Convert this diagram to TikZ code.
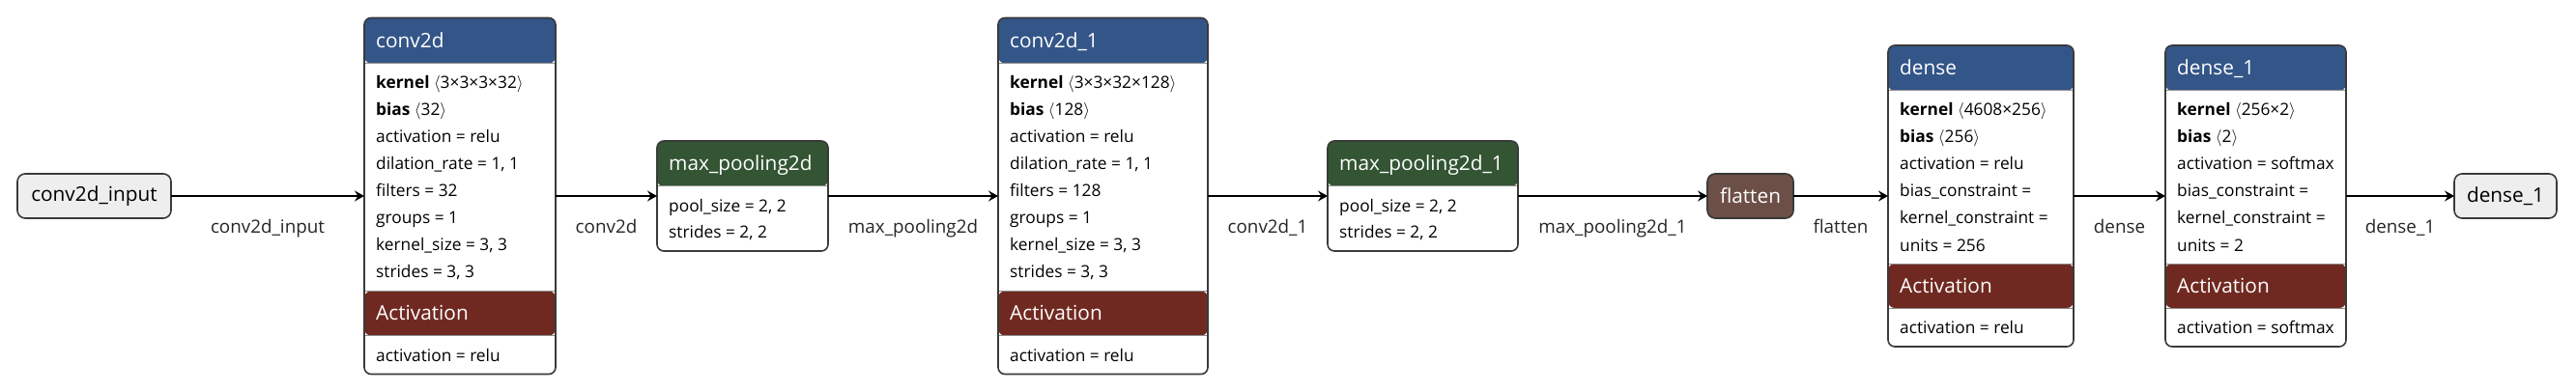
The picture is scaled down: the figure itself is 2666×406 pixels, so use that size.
\documentclass[tikz,border=0pt]{standalone}
\usepackage{fontspec}
\setmainfont{Open Sans}
\usepackage{tikz}
\usetikzlibrary{arrows.meta, positioning}
\definecolor{layerblue}{HTML}{335588}
\definecolor{poolgreen}{HTML}{335533}
\definecolor{actred}{HTML}{702921}
\definecolor{shapebrown}{HTML}{6C4F47}
\definecolor{iogray}{HTML}{EEEEEE}
\definecolor{framegray}{HTML}{3A3A3A}
\definecolor{sepgray}{HTML}{8C8C8C}
\newcommand{\tshape}[1]{ $\langle$#1$\rangle$}
\tikzset{
  layer/.style={rectangle, rounded corners=7pt, draw=framegray, line width=1.6pt,
                fill=white, inner sep=0pt, outer sep=0pt},
  convlayer/.style={layer, path picture={
      \fill[layerblue] (path picture bounding box.north west)
        rectangle ([yshift=-47pt]path picture bounding box.north east);
      \fill[actred] ([yshift=86pt]path picture bounding box.south west)
        rectangle ([yshift=40pt]path picture bounding box.south east);
      \draw[sepgray, line width=1pt]
        ([yshift=-47pt]path picture bounding box.north west) -- ([yshift=-47pt]path picture bounding box.north east)
        ([yshift=86pt]path picture bounding box.south west) -- ([yshift=86pt]path picture bounding box.south east)
        ([yshift=40pt]path picture bounding box.south west) -- ([yshift=40pt]path picture bounding box.south east);}},
  poollayer/.style={layer, path picture={
      \fill[poolgreen] (path picture bounding box.north west)
        rectangle ([yshift=-47pt]path picture bounding box.north east);
      \draw[sepgray, line width=1pt]
        ([yshift=-47pt]path picture bounding box.north west) -- ([yshift=-47pt]path picture bounding box.north east);}},
  iobox/.style={rectangle, rounded corners=8pt, draw=framegray, line width=1.6pt,
                fill=iogray, minimum height=46pt, inner sep=0pt, outer sep=0pt,
                font=\fontsize{20.8}{24}\selectfont},
  flatbox/.style={iobox, fill=shapebrown, text=white},
  hdtext/.style={anchor=base west, inner sep=0pt, text=white,
                 font=\fontsize{20.8}{24}\selectfont},
  attr/.style={anchor=base west, inner sep=0pt, font=\fontsize{17.3}{20}\selectfont},
  elabel/.style={midway, anchor=base, yshift=-38.8pt, inner sep=0pt,
                 text=black!85, font=\fontsize{18.8}{22}\selectfont},
  arr/.style={-{Stealth[length=10pt, width=11pt, inset=3.5pt]}, line width=1.8pt},
}
\begin{document}
\begin{tikzpicture}[x=1pt, y=-1pt]
  \fill[white] (0,0) rectangle (2666,406);
  \useasboundingbox (0,0) rectangle (2666,406);
  \node[iobox, minimum width=159pt] (inp) at (97.5,203) {conv2d\_input};
  % conv2d
  \node[convlayer, minimum width=198pt, minimum height=369pt, right=200pt of inp] (conv) {};
  \node[hdtext] (conv-hd) at ([xshift=12pt, yshift=-31pt]conv.north west) {conv2d};
  \foreach \t [count=\i] in {{\textbf{kernel}\tshape{3×3×3×32}}, {\textbf{bias}\tshape{32}},
      {activation = relu}, {dilation\_rate = 1, 1}, {filters = 32}, {groups = 1},
      {kernel\_size = 3, 3}, {strides = 3, 3}}
    \node[attr] (conv-a\i) at ([xshift=12pt, yshift={-(45+28*\i)}]conv.north west) {\t};
  \node[hdtext] (conv-act) at ([xshift=12pt, yshift=55.6pt]conv.south west) {Activation};
  \node[attr] (conv-aa) at ([xshift=12pt, yshift=13.3pt]conv.south west) {activation = relu};
  % max_pooling2d
  \node[poollayer, minimum width=177pt, minimum height=114pt, right=105pt of conv] (pool) {};
  \node[hdtext] (pool-hd) at ([xshift=12pt, yshift=-31pt]pool.north west) {max\_pooling2d};
  \foreach \t [count=\i] in {{pool\_size = 2, 2}, {strides = 2, 2}}
    \node[attr] (pool-a\i) at ([xshift=12pt, yshift={-(45+28*\i)}]pool.north west) {\t};
  % conv2d_1
  \node[convlayer, minimum width=217pt, minimum height=369pt, right=176pt of pool] (conva) {};
  \node[hdtext] (conva-hd) at ([xshift=12pt, yshift=-31pt]conva.north west) {conv2d\_1};
  \foreach \t [count=\i] in {{\textbf{kernel}\tshape{3×3×32×128}}, {\textbf{bias}\tshape{128}},
      {activation = relu}, {dilation\_rate = 1, 1}, {filters = 128}, {groups = 1},
      {kernel\_size = 3, 3}, {strides = 3, 3}}
    \node[attr] (conva-a\i) at ([xshift=12pt, yshift={-(45+28*\i)}]conva.north west) {\t};
  \node[hdtext] (conva-act) at ([xshift=12pt, yshift=55.6pt]conva.south west) {Activation};
  \node[attr] (conva-aa) at ([xshift=12pt, yshift=13.3pt]conva.south west) {activation = relu};
  % max_pooling2d_1
  \node[poollayer, minimum width=197pt, minimum height=114pt, right=124pt of conva] (poola) {};
  \node[hdtext] (poola-hd) at ([xshift=12pt, yshift=-31pt]poola.north west) {max\_pooling2d\_1};
  \foreach \t [count=\i] in {{pool\_size = 2, 2}, {strides = 2, 2}}
    \node[attr] (poola-a\i) at ([xshift=12pt, yshift={-(45+28*\i)}]poola.north west) {\t};
  % flatten
  \node[flatbox, minimum width=89pt, right=196pt of poola] (flat) {flatten};
  % dense
  \node[convlayer, minimum width=192pt, minimum height=312pt, right=98pt of flat] (dense) {};
  \node[hdtext] (dense-hd) at ([xshift=12pt, yshift=-31pt]dense.north west) {dense};
  \foreach \t [count=\i] in {{\textbf{kernel}\tshape{4608×256}}, {\textbf{bias}\tshape{256}},
      {activation = relu}, {bias\_constraint =}, {kernel\_constraint =}, {units = 256}}
    \node[attr] (dense-a\i) at ([xshift=12pt, yshift={-(45+28*\i)}]dense.north west) {\t};
  \node[hdtext] (dense-act) at ([xshift=12pt, yshift=55.6pt]dense.south west) {Activation};
  \node[attr] (dense-aa) at ([xshift=12pt, yshift=13.3pt]dense.south west) {activation = relu};
  % dense_1
  \node[convlayer, minimum width=187pt, minimum height=312pt, right=95pt of dense] (densea) {};
  \node[hdtext] (densea-hd) at ([xshift=12pt, yshift=-31pt]densea.north west) {dense\_1};
  \foreach \t [count=\i] in {{\textbf{kernel}\tshape{256×2}}, {\textbf{bias}\tshape{2}},
      {activation = softmax}, {bias\_constraint =}, {kernel\_constraint =}, {units = 2}}
    \node[attr] (densea-a\i) at ([xshift=12pt, yshift={-(45+28*\i)}]densea.north west) {\t};
  \node[hdtext] (densea-act) at ([xshift=12pt, yshift=55.6pt]densea.south west) {Activation};
  \node[attr] (densea-aa) at ([xshift=12pt, yshift=13.3pt]densea.south west) {activation = softmax};
  \node[iobox, minimum width=106pt, right=112pt of densea] (outp) {dense\_1};
  \foreach \a/\b/\l in {inp/conv/conv2d\_input, conv/pool/conv2d, pool/conva/max\_pooling2d,
      conva/poola/conv2d\_1, poola/flat/max\_pooling2d\_1, flat/dense/flatten,
      dense/densea/dense, densea/outp/dense\_1}
    \draw[arr] (\a) -- node[elabel] (lab-\b) {\l} (\b);
\end{tikzpicture}
\end{document}
